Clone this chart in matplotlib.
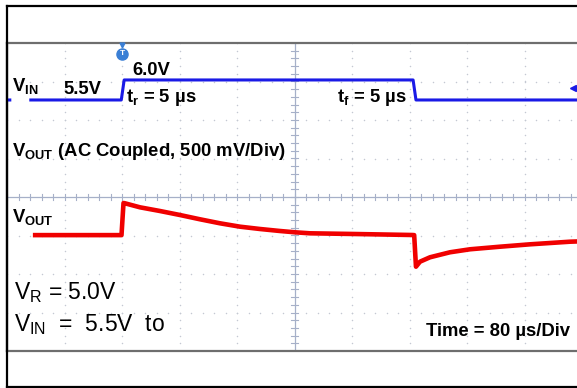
"""Scope capture: line transient response, VIN step 5.5 V -> 6.0 V."""

import numpy as np
import matplotlib.pyplot as plt
from matplotlib.lines import Line2D

plt.rcParams["font.family"] = "Liberation Sans"
plt.rcParams["mathtext.fontset"] = "custom"
plt.rcParams["mathtext.rm"] = "Liberation Sans"
plt.rcParams["mathtext.bf"] = "Liberation Sans:bold"
plt.rcParams["mathtext.it"] = "Liberation Sans:italic"

# screen units: time in us (80 us/div), amplitude in divisions
vin_time_us = [-400, -394, np.nan, -369, -241, -237, 165, 169, 400]
vin_div = [2.52, 2.52, np.nan, 2.52, 2.52, 3.04, 3.04, 2.52, 2.52]

vout_time_us = [-364, -240.7, -237.9, -235.8, -215.0, -187.1, -159.3, -131.5,
                -103.7, -75.8, -48.0, -20.2, 0.7, 21.6, 80, 163.5, 166.5,
                169, 174.6, 188.5, 216.3, 244.2, 285.9, 327.7, 383.3, 400]
vout_div = [-0.99, -0.99, -0.156, -0.164, -0.268, -0.364, -0.468, -0.579,
            -0.683, -0.771, -0.831, -0.883, -0.917, -0.943, -0.96, -0.987, -0.99,
            -1.81, -1.68, -1.566, -1.436, -1.358, -1.291, -1.229, -1.161, -1.15]

trigger_us = -240
ch1_marker_div = 2.83

x_divs = np.arange(-400, 401, 80)
y_divs = np.arange(-4, 5, 1)

BLUE = "#1a1ae6"
RED = "#f00000"
GRID = "#c4c8d2"
AXIS = "#a6b0c8"

fig = plt.figure(figsize=(5.77, 3.88), dpi=100)
ax = fig.add_axes([7 / 577, 37 / 388, 575 / 577, 308 / 388])
ax.set_xlim(-400, 400)
ax.set_ylim(-4, 4)
ax.set_xticks([])
ax.set_yticks([])
for side in ("top", "bottom"):
    ax.spines[side].set_color("#6e6e6e")
    ax.spines[side].set_linewidth(1.6)
ax.spines["left"].set_color("black")
ax.spines["left"].set_linewidth(1.6)
ax.spines["right"].set_visible(False)

# dotted graticule
minor_x = np.arange(-400, 401, 16)
minor_y = np.arange(-4, 4.01, 0.2)
for yv in y_divs[1:-1]:
    if yv != 0:
        ax.scatter(minor_x, np.full_like(minor_x, yv, dtype=float), s=1.2,
                   color=GRID, linewidths=0, zorder=1)
for xv in x_divs[1:-1]:
    if xv != 0:
        ax.scatter(np.full_like(minor_y, xv), minor_y, s=1.2,
                   color=GRID, linewidths=0, zorder=1)

# centre axes with tick marks
ax.axhline(0, color=AXIS, lw=0.9, zorder=1)
ax.axvline(0, color=AXIS, lw=0.9, zorder=1)
for xv in minor_x:
    ax.plot([xv, xv], [-0.07, 0.07], color=AXIS, lw=0.8, zorder=1)
for yv in minor_y:
    ax.plot([-4.5, 4.5], [yv, yv], color=AXIS, lw=0.8, zorder=1)

# traces
ax.plot(vin_time_us, vin_div, color=BLUE, lw=2.2, solid_capstyle="butt", zorder=3)
ax.plot(vout_time_us, vout_div, color=RED, lw=3.3, solid_capstyle="butt",
        solid_joinstyle="round", zorder=3)

# trigger and channel markers
ax.plot([trigger_us], [3.95], marker="v", ms=3.5, color="#3a7fd5", clip_on=False, zorder=4)
ax.plot([trigger_us], [3.72], marker="o", ms=8, color="#3a7fd5", zorder=4)
ax.text(trigger_us, 3.72, "T", color="white", fontsize=6, fontweight="bold",
        ha="center", va="center", zorder=5)
ax.plot([388], [ch1_marker_div], marker="<", ms=5, color=BLUE, zorder=4)

# annotations
bold = dict(fontsize=13.3, fontweight="bold", va="baseline", zorder=6)
ax.text(-393, 2.75, r"V$_{\mathbf{IN}}$", **bold)
ax.text(-322, 2.68, "5.5V", **bold)
ax.text(-225, 3.17, "6.0V", **bold)
ax.text(-234, 2.47, r"t$_{\mathbf{r}}$ = 5 µs", **bold)
ax.text(59, 2.47, r"t$_{\mathbf{f}}$ = 5 µs", **bold)
ax.text(-393, 1.06, r"V$_{\mathbf{OUT}}$ (AC Coupled, 500 mV/Div)", **bold)
ax.text(-393, -0.65, r"V$_{\mathbf{OUT}}$", **bold)
ax.text(383, -3.61, "Time = 80 µs/Div", ha="right", **bold)

regular = dict(fontsize=16.5, va="baseline", zorder=6)
ax.text(-390, -2.65, r"V$_{\mathrm{R}}$ = 5.0V", **regular)
ax.text(-390, -3.48, r"V$_{\mathrm{IN}}$  =  5.5V  to", **regular)

# outer frame
fig.add_artist(Line2D([7 / 577, 7 / 577], [1 / 388, 382 / 388], color="black", lw=1.6))
fig.add_artist(Line2D([7 / 577, 1], [382 / 388, 382 / 388], color="black", lw=1.6))
fig.add_artist(Line2D([7 / 577, 1], [1.2 / 388, 1.2 / 388], color="black", lw=1.6))

fig.savefig("out.png", dpi=100)
